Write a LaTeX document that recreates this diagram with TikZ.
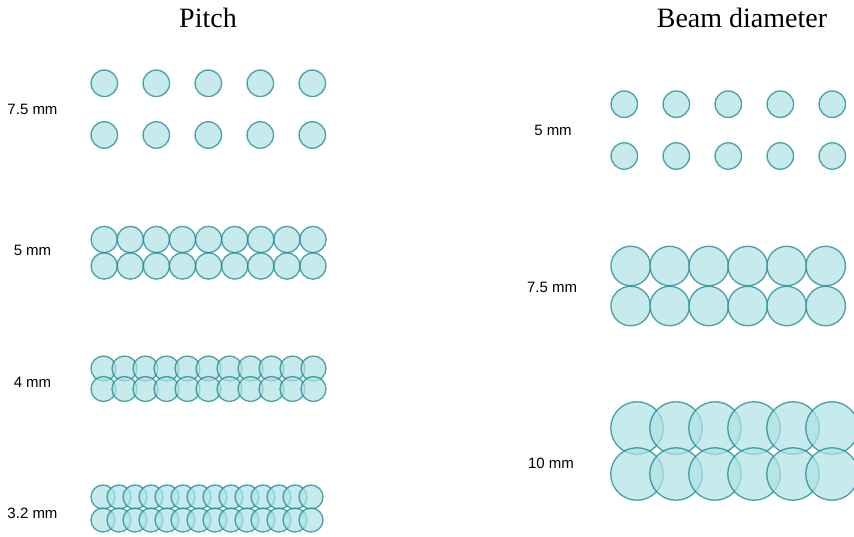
\documentclass[tikz,border=0pt]{standalone}
\usepackage{fontspec}
\setmainfont{Liberation Serif}
\newfontfamily\labelfont{Liberation Sans}
\definecolor{beamfill}{HTML}{B0E3E6}
\definecolor{beamdraw}{HTML}{0E8088}
\tikzset{
  beam/.style={circle, draw=beamdraw, fill=beamfill, fill opacity=0.7, draw opacity=0.7,
    line width=1.35pt, inner sep=0pt, minimum size=#1},
  title/.style={font=\fontsize{28}{32}\selectfont, inner sep=0pt},
  lbl/.style={font=\labelfont\fontsize{15}{17}\selectfont, inner sep=0pt}
}
\begin{document}
\begin{tikzpicture}[x=1pt,y=-1pt]
\path[use as bounding box, clip] (0,0) rectangle (854,536);
\fill[white] (0,0) rectangle (854,536);
% titles
\node[title] (tpitch) at (208,18) {Pitch};
\node[title] (tbeam) at (742,18) {Beam diameter};
% pitch labels
\node[lbl] (lp1) at (32.5,109) {7.5 mm};
\node[lbl] (lp2) at (32.5,250) {5 mm};
\node[lbl] (lp3) at (32.5,382) {4 mm};
\node[lbl] (lp4) at (32.5,513) {3.2 mm};
% beam labels
\node[lbl] (lb1) at (553,130) {5 mm};
\node[lbl] (lb2) at (552,287) {7.5 mm};
\node[lbl] (lb3) at (551,463) {10 mm};
% pitch 7.5 mm
\foreach \i in {0,...,4}{
  \node[beam=26.5pt] (pa-t-\i) at ({104.3+52*\i},83.3) {};
  \node[beam=26.5pt] (pa-b-\i) at ({104.3+52*\i},135) {};
}
% pitch 5 mm
\foreach \i in {0,...,8}{
  \node[beam=26.3pt] (pb-t-\i) at ({104.2+26.1*\i},239.5) {};
  \node[beam=26.3pt] (pb-b-\i) at ({104.2+26.1*\i},266) {};
}
% pitch 4 mm
\foreach \i in {0,...,10}{
  \node[beam=25pt] (pc-t-\i) at ({103.5+21*\i},368.5) {};
  \node[beam=25pt] (pc-b-\i) at ({103.5+21*\i},389) {};
}
% pitch 3.2 mm
\foreach \i in {0,...,13}{
  \node[beam=24pt] (pd-t-\i) at ({103+16*\i},497) {};
  \node[beam=24pt] (pd-b-\i) at ({103+16*\i},520) {};
}
% beam 5 mm
\foreach \i in {0,...,4}{
  \node[beam=26.5pt] (ba-t-\i) at ({624.3+52*\i},104.2) {};
  \node[beam=26.5pt] (ba-b-\i) at ({624.3+52*\i},156) {};
}
% beam 7.5 mm
\foreach \i in {0,...,5}{
  \node[beam=39.5pt] (bb-t-\i) at ({630.7+39*\i},266) {};
  \node[beam=39.5pt] (bb-b-\i) at ({630.7+39*\i},306) {};
}
% beam 10 mm
\foreach \i in {0,...,5}{
  \node[beam=52.5pt] (bc-t-\i) at ({637+39*\i},428) {};
  \node[beam=52.5pt] (bc-b-\i) at ({637+39*\i},474) {};
}
\end{tikzpicture}
\end{document}
